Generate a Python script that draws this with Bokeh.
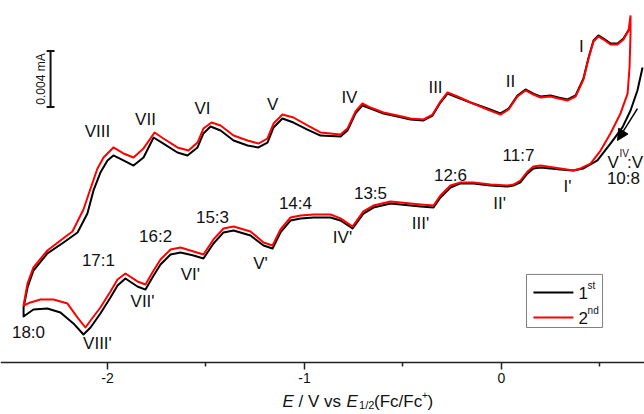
import math
from bokeh.plotting import figure
from bokeh.models import Range1d, FixedTicker, Label, Arrow, NormalHead
from bokeh.embed import file_html
from bokeh.resources import INLINE

# ---- data: potential E (V vs Fc/Fc+) and current (uA) ----
# cycle 1 (black): cathodic sweep from open-circuit potential, then anodic return
c1_down_E = [0.716, 0.690, 0.655, 0.614, 0.553, 0.487, 0.416, 0.365, 0.299, 0.198,
             0.162, 0.132, 0.096, 0.061, 0.030, -0.056, -0.142, -0.208, -0.259, -0.310,
             -0.345, -0.411, -0.462, -0.563, -0.650, -0.701, -0.756, -0.817, -0.868, -0.954,
             -1.020, -1.071, -1.122, -1.162, -1.208, -1.274, -1.360, -1.411, -1.462, -1.513,
             -1.563, -1.629, -1.680, -1.731, -1.772, -1.807, -1.848, -1.909, -1.949, -1.985,
             -2.036, -2.086, -2.122, -2.173, -2.239, -2.305, -2.376, -2.426]
c1_down_I = [13.07, 11.43, 10.00, 8.79, 7.64, 6.43, 5.86, 5.71, 5.79, 5.93,
             5.86, 5.50, 4.86, 4.64, 4.57, 4.64, 4.79, 4.79, 4.50, 3.79,
             3.07, 3.14, 3.21, 3.36, 3.07, 2.64, 1.57, 2.14, 2.36, 2.36,
             2.29, 2.14, 1.29, 0.14, 0.36, 1.07, 1.43, 1.29, 0.50, -0.57,
             -0.36, -0.14, -0.29, -1.00, -1.93, -2.79, -2.57, -2.00, -2.50, -3.36,
             -4.50, -5.50, -6.00, -5.21, -4.43, -4.14, -4.21, -4.71]
c1_up_E = [-2.426, -2.406, -2.376, -2.305, -2.223, -2.152, -2.102, -2.071, -2.036, -2.000,
           -1.970, -1.919, -1.868, -1.817, -1.766, -1.716, -1.645, -1.594, -1.543, -1.513,
           -1.477, -1.426, -1.360, -1.289, -1.234, -1.188, -1.157, -1.112, -1.056, -0.985,
           -0.919, -0.817, -0.782, -0.741, -0.706, -0.665, -0.599, -0.528, -0.462, -0.396,
           -0.350, -0.310, -0.274, -0.223, -0.157, -0.071, -0.005, 0.036, 0.081, 0.122,
           0.162, 0.198, 0.249, 0.289, 0.335, 0.376, 0.416, 0.442, 0.467, 0.492,
           0.518, 0.553, 0.589, 0.619, 0.650]
c1_up_I = [-4.07, -2.64, -1.43, -0.21, 0.57, 1.29, 2.64, 4.29, 5.57, 6.43,
           6.79, 6.43, 6.07, 6.64, 8.07, 7.64, 7.00, 6.79, 7.36, 8.36,
           8.86, 8.57, 7.86, 7.50, 7.36, 7.71, 8.79, 9.43, 9.14, 8.64,
           8.21, 8.14, 8.57, 9.79, 10.36, 10.14, 9.79, 9.57, 9.36, 9.29,
           9.64, 10.57, 11.21, 10.93, 10.57, 10.14, 9.79, 10.14, 11.07, 11.50,
           11.21, 11.00, 11.07, 10.93, 10.79, 11.07, 12.29, 13.79, 15.00, 15.36,
           15.14, 14.79, 14.79, 15.14, 15.86]

# cycle 2 (red)
c2_down_E = [0.655, 0.655, 0.650, 0.640, 0.604, 0.553, 0.503, 0.452, 0.401, 0.365,
             0.299, 0.198, 0.162, 0.132, 0.096, 0.061, 0.030, -0.056, -0.142, -0.208,
             -0.259, -0.310, -0.345, -0.411, -0.462, -0.563, -0.650, -0.701, -0.756, -0.817,
             -0.868, -0.954, -1.020, -1.071, -1.122, -1.162, -1.208, -1.274, -1.360, -1.411,
             -1.462, -1.513, -1.563, -1.629, -1.680, -1.731, -1.772, -1.807, -1.848, -1.909,
             -1.949, -1.985, -2.036, -2.086, -2.112, -2.152, -2.203, -2.274, -2.340, -2.391,
             -2.426]
c2_down_I = [16.79, 15.50, 13.07, 11.21, 9.79, 8.36, 7.14, 6.21, 5.86, 5.71,
             5.86, 6.07, 6.00, 5.64, 5.00, 4.71, 4.64, 4.71, 4.86, 4.86,
             4.64, 3.93, 3.21, 3.29, 3.36, 3.50, 3.21, 2.79, 1.71, 2.29,
             2.57, 2.57, 2.50, 2.36, 1.50, 0.36, 0.57, 1.36, 1.71, 1.57,
             0.79, -0.29, -0.07, 0.21, 0.07, -0.64, -1.57, -2.43, -2.21, -1.64,
             -2.07, -2.93, -4.07, -5.00, -5.50, -4.79, -3.79, -3.50, -3.50, -3.71,
             -3.93]
c2_up_E = [-2.426, -2.406, -2.376, -2.305, -2.239, -2.178, -2.122, -2.086, -2.051, -2.020,
           -1.970, -1.919, -1.868, -1.817, -1.761, -1.716, -1.645, -1.589, -1.543, -1.513,
           -1.472, -1.426, -1.360, -1.289, -1.234, -1.188, -1.157, -1.112, -1.056, -0.985,
           -0.919, -0.817, -0.782, -0.741, -0.706, -0.665, -0.599, -0.528, -0.462, -0.396,
           -0.350, -0.310, -0.274, -0.223, -0.157, -0.071, -0.005, 0.036, 0.081, 0.122,
           0.162, 0.198, 0.249, 0.289, 0.335, 0.376, 0.416, 0.442, 0.467, 0.492,
           0.518, 0.553, 0.589, 0.619, 0.645, 0.655]
c2_up_I = [-3.93, -2.36, -1.21, 0.00, 0.71, 1.36, 2.93, 4.43, 5.86, 6.64,
           7.36, 6.93, 6.64, 7.29, 8.43, 8.00, 7.36, 7.14, 7.71, 8.71,
           9.14, 8.93, 8.21, 7.86, 7.64, 8.00, 9.07, 9.71, 9.50, 8.93,
           8.43, 8.29, 8.71, 9.93, 10.50, 10.21, 9.86, 9.64, 9.43, 9.36,
           9.71, 10.64, 11.29, 11.00, 10.57, 10.07, 9.71, 10.07, 11.00, 11.43,
           11.14, 10.93, 11.00, 10.86, 10.71, 11.00, 12.21, 13.71, 14.93, 15.29,
           15.07, 14.71, 14.71, 15.07, 15.71, 16.79]

series_names = ["1", "2"]
series_sup = ["st", "nd"]
series_colors = ["#000000", "#ff0000"]

tick_values = [-2, -1, 0]
tick_labels = ["-2", "-1", "0"]
minor_tick_values = [-1.5, -0.5, 0.5]

# wave labels (upper branch / lower branch) and composition labels
upper_names = ["I", "II", "III", "IV", "V", "VI", "VII", "VIII"]
lower_names = ["I'", "II'", "III'", "IV'", "V'", "VI'", "VII'", "VIII'"]
ratio_names = ["10:8", "11:7", "12:6", "13:5", "14:4", "15:3", "16:2", "17:1", "18:0"]

scale_bar_uA = 4.0  # 0.004 mA
axis_level_uA = -8.0

# ---- annotation anchor positions (data units) ----
upper_pos = [(0.406, 14.57), (0.046, 12.07), (-0.335, 11.64), (-0.772, 10.93),
             (-1.162, 10.43), (-1.518, 10.14), (-1.807, 9.36), (-2.051, 8.50)]
lower_pos = [(0.335, 4.57), (-0.010, 3.36), (-0.411, 1.93), (-0.807, 0.93),
             (-1.223, -0.93), (-1.579, -1.71), (-1.822, -3.64), (-2.051, -6.64)]
ratio_pos = [(0.619, 5.16), (0.086, 6.79), (-0.259, 5.36), (-0.665, 4.07), (-1.046, 3.36),
             (-1.467, 2.36), (-1.756, 1.00), (-2.046, -0.71), (-2.401, -5.86)]

FONT = "Liberation Sans"

p = figure(width=644, height=414, output_backend="svg", toolbar_location=None,
           x_range=Range1d(-2.5431, 0.7259), y_range=Range1d(-11.714, 17.857),
           y_axis_location=None, min_border=0, min_border_left=0, min_border_right=0,
           min_border_top=0, min_border_bottom=0)
p.outline_line_color = None
p.grid.visible = False
p.background_fill_color = "white"
p.border_fill_color = "white"

ax = p.xaxis[0]
ax.fixed_location = axis_level_uA
ax.ticker = FixedTicker(ticks=tick_values, minor_ticks=minor_tick_values)
ax.major_label_overrides = {v: s for v, s in zip(tick_values, tick_labels)}
ax.axis_line_color = "#222222"
ax.axis_line_width = 1.5
ax.major_tick_line_color = "#222222"
ax.major_tick_line_width = 1.5
ax.major_tick_in = 0
ax.major_tick_out = 7
ax.minor_tick_line_color = "#222222"
ax.minor_tick_line_width = 1.5
ax.minor_tick_in = 0
ax.minor_tick_out = 4
ax.major_label_text_font = FONT
ax.major_label_text_font_size = "14px"
ax.major_label_text_color = "#111111"
ax.major_label_standoff = 3

# curves
p.line(c1_down_E + c1_up_E, c1_down_I + c1_up_I, line_color=series_colors[0],
       line_width=2, line_join="round")
p.line(c2_down_E + c2_up_E, c2_down_I + c2_up_I, line_color=series_colors[1],
       line_width=2, line_join="round")

def lab(x, y, t, size="17px", align="center", baseline="middle", style="normal", angle=0.0):
    p.add_layout(Label(x=x, y=y, text=t, text_font=FONT, text_font_size=size,
                       text_align=align, text_baseline=baseline, text_color="#111111",
                       text_font_style=style, angle=angle))

for (x, y), t in zip(upper_pos, upper_names):
    lab(x, y, t)
for (x, y), t in zip(lower_pos, lower_names):
    lab(x, y, t)
for (x, y), t in zip(ratio_pos, ratio_names):
    lab(x, y, t)

# V(IV):V label (the trailing superscript lies beyond the picture's edge)
lab(0.538, 6.29, "V", align="left", baseline="alphabetic")
lab(0.599, 6.93, "IV", size="10px", align="left", baseline="alphabetic")
lab(0.637, 6.29, ":V", align="left", baseline="alphabetic")

# scan direction arrow
p.add_layout(Arrow(end=NormalHead(size=11, fill_color="black", line_color="black"),
                   x_start=0.690, y_start=10.14, x_end=0.589, y_end=7.86,
                   line_width=1.5, line_color="black"))

# scale bar
sb_x, sb_y0 = -2.289, 10.25
p.segment(x0=[sb_x], y0=[sb_y0], x1=[sb_x], y1=[sb_y0 + scale_bar_uA],
          line_color="#111111", line_width=2)
p.segment(x0=[sb_x - 0.02, sb_x - 0.02], y0=[sb_y0, sb_y0 + scale_bar_uA],
          x1=[sb_x + 0.02, sb_x + 0.02], y1=[sb_y0, sb_y0 + scale_bar_uA],
          line_color="#111111", line_width=2)
lab(-2.337, sb_y0 + scale_bar_uA / 2, "0.%03d mA" % int(scale_bar_uA), size="12px",
    angle=math.pi / 2)

# legend
p.quad(left=[0.127], right=[0.513], top=[-1.71], bottom=[-5.50],
       fill_color="white", line_color="#808080", line_width=1)
leg_y = [-3.00, -4.79]
for i in range(2):
    p.line([0.162, 0.365], [leg_y[i], leg_y[i]], line_color=series_colors[i], line_width=2)
    lab(0.391, leg_y[i], series_names[i], align="left")
    lab(0.437, leg_y[i] + 0.50, series_sup[i], size="10px", align="left")

# axis title: E / V vs E1/2(Fc/Fc+)
ty = -10.79
lab(-1.112, ty, "E", align="left", baseline="alphabetic", style="italic")
lab(-1.030, ty, "/ V vs", align="left", baseline="alphabetic")
lab(-0.787, ty, "E", align="left", baseline="alphabetic", style="italic")
lab(-0.723, -11.07, "1/2", size="11px", align="left", baseline="alphabetic")
lab(-0.647, ty, "(Fc/Fc", align="left", baseline="alphabetic")
lab(-0.404, -10.29, "+", size="10px", align="left", baseline="alphabetic")
lab(-0.376, ty, ")", align="left", baseline="alphabetic")

open("out.html", "w").write(file_html(p, INLINE))
